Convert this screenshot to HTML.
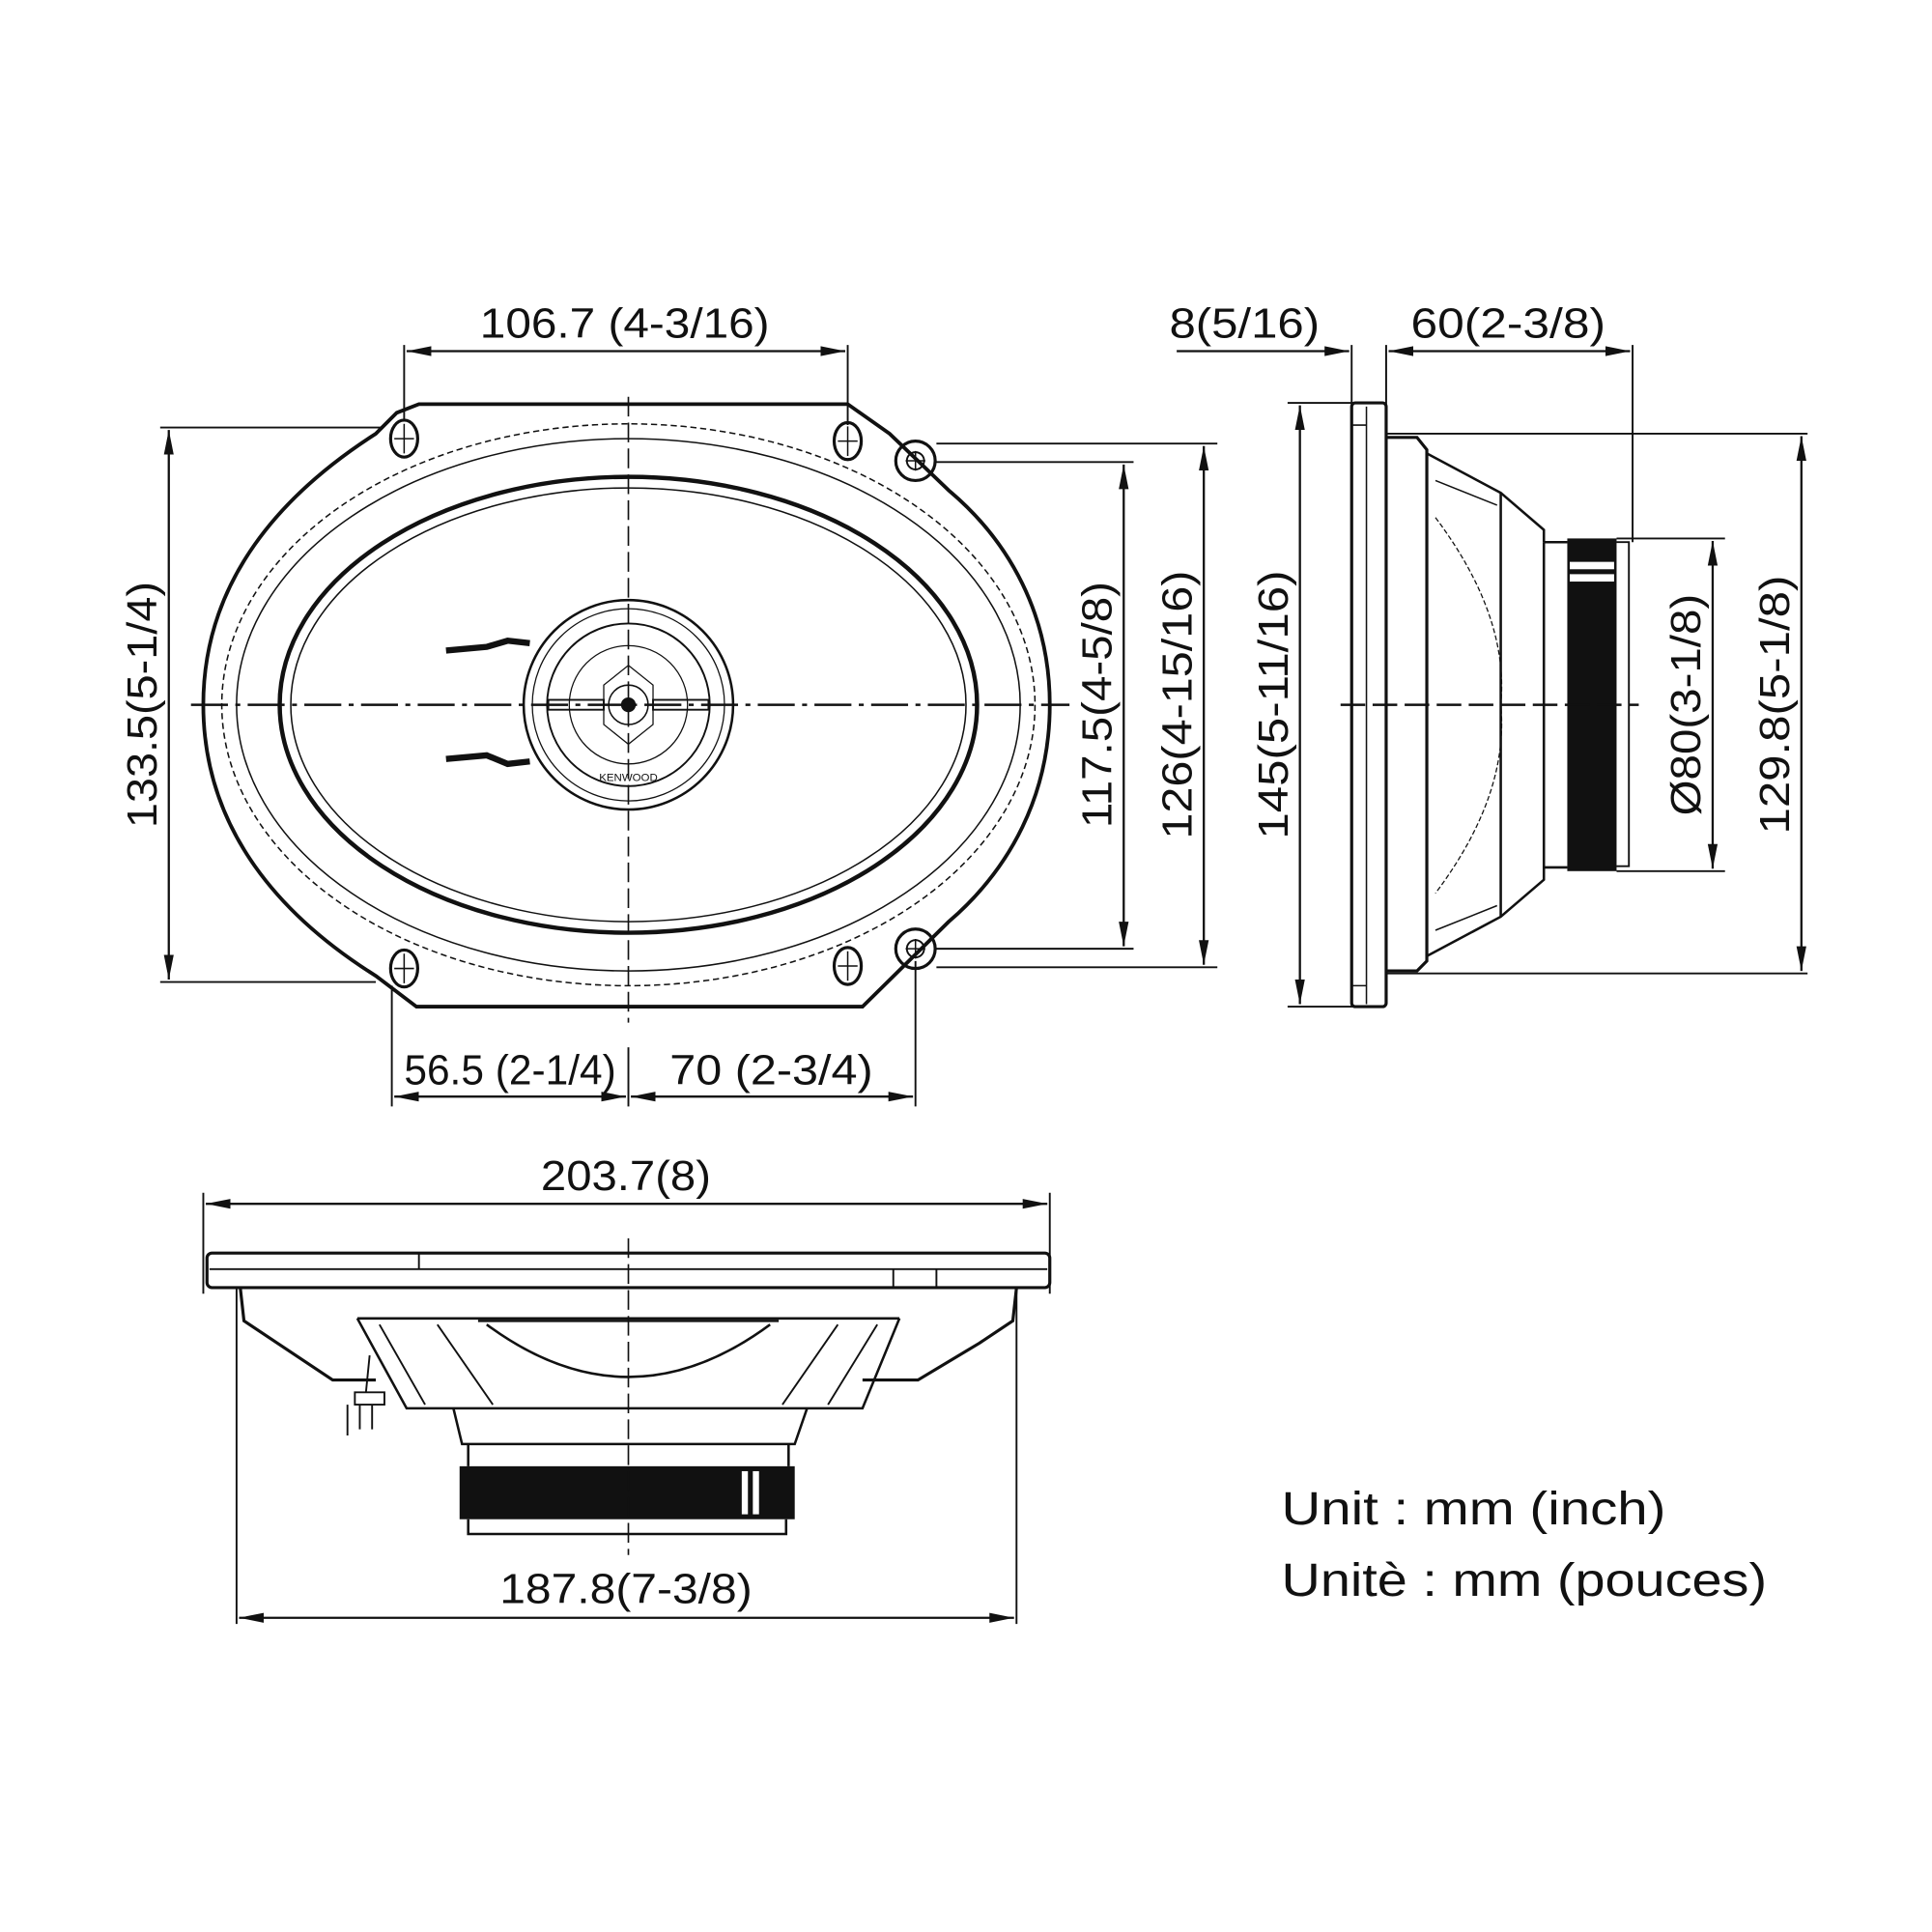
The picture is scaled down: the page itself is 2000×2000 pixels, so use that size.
<!DOCTYPE html>
<html><head><meta charset="utf-8"><style>
html,body{margin:0;padding:0;background:#fff;}
svg{display:block;}
text{font-family:"Liberation Sans",sans-serif;fill:#111;}
</style></head><body>
<svg width="2000" height="2000" viewBox="0 0 1568 1568" xmlns="http://www.w3.org/2000/svg">
<defs>
<marker id="a" viewBox="0 0 20 10" refX="20" refY="5" markerWidth="20" markerHeight="10" markerUnits="userSpaceOnUse" orient="auto-start-reverse"><path d="M0,1 L20,5 L0,9 Z" fill="#111"/></marker>
</defs>
<g fill="none" stroke="#111" stroke-width="2">
<!-- FRONT VIEW -->
<path d="M340,328 L688,328 L722,352 L770,398 C820,440 852,500 852,572 C852,645 820,705 770,748 L700,817 L338,817 L305,792 C230,745 165,675 165,572 C165,470 230,400 305,352 L322,335 Z" stroke-width="3"/>
<ellipse cx="510" cy="572" rx="330" ry="228" stroke-width="1.2" stroke-dasharray="5,3"/>
<ellipse cx="510" cy="572" rx="318" ry="216" stroke-width="1.2"/>
<ellipse cx="510" cy="572" rx="283" ry="185" stroke-width="3.5"/>
<ellipse cx="510" cy="572" rx="274" ry="176" stroke-width="1.2"/>
<circle cx="510" cy="572" r="85" stroke-width="2"/>
<circle cx="510" cy="572" r="78" stroke-width="1"/>
<circle cx="510" cy="572" r="66" stroke-width="1.5"/>
<circle cx="510" cy="572" r="48" stroke-width="1"/>
<path d="M510,540 L530,556 L530,588 L510,604 L490,588 L490,556 Z" stroke-width="1"/>
<circle cx="510" cy="572" r="16" stroke-width="1.2"/>
<circle cx="510" cy="572" r="5" fill="#111"/>
<rect x="445" y="568" width="45" height="8" stroke-width="1.5"/>
<rect x="530" y="568" width="45" height="8" stroke-width="1.5"/>
<path d="M362,528 L395,525 L412,520 L430,522" stroke-width="5"/>
<path d="M362,616 L395,613 L412,620 L430,618" stroke-width="5"/>
<text x="510" y="634" font-size="9" text-anchor="middle" stroke="none" fill="#555">KENWOOD</text>
<g stroke-width="2.5">
<ellipse cx="328" cy="356" rx="11" ry="15"/><ellipse cx="688" cy="358" rx="11" ry="15"/>
<ellipse cx="328" cy="786" rx="11" ry="15"/><ellipse cx="688" cy="784" rx="11" ry="15"/>
<circle cx="743" cy="374" r="16"/><circle cx="743" cy="770" r="16"/>
<circle cx="743" cy="374" r="7" stroke-width="1.5"/><circle cx="743" cy="770" r="7" stroke-width="1.5"/>
</g>
<path d="M320,356 H336 M328,344 V368 M320,786 H336 M328,774 V798 M680,358 H696 M688,346 V370 M680,784 H696 M688,772 V796 M735,374 H751 M743,366 V382 M735,770 H751 M743,762 V778" stroke-width="1.2"/>
<path d="M155,572 H868" stroke-width="2" stroke-dasharray="30,6,4,6"/>
<path d="M510,322 V830" stroke-width="1.3" stroke-dasharray="16,5"/>
<g stroke-width="1.5">
<path d="M328,280 V340 M688,280 V345"/>
<path d="M130,347 H310 M130,797 H305"/>
<path d="M760,360 H988 M760,785 H988"/>
<path d="M760,375 H920 M760,770 H920"/>
<path d="M318,800 V898 M743,780 V898"/>
</g>
<g stroke-width="1.8" marker-start="url(#a)" marker-end="url(#a)">
<line x1="330" y1="285" x2="686" y2="285"/>
<line x1="137" y1="349" x2="137" y2="795"/>
<line x1="912" y1="377" x2="912" y2="768"/>
<line x1="977" y1="362" x2="977" y2="783"/>
<line x1="320" y1="890" x2="508" y2="890"/>
<line x1="512" y1="890" x2="741" y2="890"/>
<line x1="167" y1="977" x2="850" y2="977"/>
<line x1="194" y1="1313" x2="823" y2="1313"/>
<line x1="1127" y1="285" x2="1323" y2="285"/>
<line x1="1055" y1="329" x2="1055" y2="815"/>
<line x1="1462" y1="354" x2="1462" y2="788"/>
<line x1="1390" y1="439" x2="1390" y2="705"/>
</g>
<path d="M955,285 H1095" stroke-width="1.8" marker-end="url(#a)"/>
<path d="M510,850 V898" stroke-width="1.5"/>
<!-- SIDE VIEW -->
<path d="M1097,280 V330 M1125,280 V330 M1325,280 V440" stroke-width="1.5"/>
<rect x="1097" y="327" width="28" height="490" rx="3" stroke-width="2.5"/>
<path d="M1109,330 V815 M1097,345 H1109 M1097,800 H1109" stroke-width="1.2"/>
<path d="M1045,327 H1100 M1045,817 H1100" stroke-width="1.5"/>
<path d="M1125,352 H1467 M1125,790 H1467" stroke-width="1.5"/>
<path d="M1312,437 H1400 M1312,707 H1400" stroke-width="1.5"/>
<path d="M1125,355 L1150,355 L1158,365 L1158,780 L1150,788 L1125,788" stroke-width="2.5"/>
<path d="M1158,368 L1218,400 L1253,430 L1253,440 M1158,776 L1218,744 L1253,714 L1253,704" stroke-width="2"/>
<path d="M1218,400 V744 M1253,440 V704 M1253,440 H1272 M1253,704 H1272" stroke-width="2"/>
<path d="M1165,390 L1215,410 M1165,755 L1215,735" stroke-width="1.2"/>
<path d="M1165,420 Q1225,500 1218,572 Q1225,645 1165,725" stroke-width="1" stroke-dasharray="4,2"/>
<rect x="1272" y="437" width="40" height="270" fill="#111" stroke="none"/>
<rect x="1274" y="456" width="36" height="6" fill="#fff" stroke="none"/>
<rect x="1274" y="466" width="36" height="6" fill="#fff" stroke="none"/>
<path d="M1312,440 H1322 V703 H1312" stroke-width="1.5"/>
<path d="M1088,572 H1330" stroke-width="2" stroke-dasharray="20,6"/>
<!-- BOTTOM VIEW -->
<path d="M165,968 V1050 M852,968 V1050" stroke-width="1.5"/>
<path d="M192,1045 V1318 M825,1045 V1318" stroke-width="1.5"/>
<rect x="168" y="1017" width="684" height="28" rx="4" stroke-width="2.5"/>
<path d="M170,1030 H850 M340,1017 V1030 M725,1030 V1045 M760,1030 V1045" stroke-width="1.5"/>
<path d="M195,1045 L198,1072 L225,1090 L270,1120 L305,1120 M825,1045 L822,1072 L795,1090 L745,1120 L700,1120" stroke-width="2.5"/>
<path d="M290,1070 L730,1070 M290,1070 L330,1143 L700,1143 L730,1070" stroke-width="2"/>
<path d="M308,1075 L345,1140 M355,1075 L400,1140 M680,1075 L635,1140 M712,1075 L672,1140" stroke-width="1.5"/>
<path d="M388,1072 L632,1072 M395,1075 Q510,1160 625,1075" stroke-width="2"/>
<path d="M368,1143 L375,1172 L645,1172 L655,1143" stroke-width="2"/>
<path d="M380,1172 V1190 M640,1172 V1190" stroke-width="2"/>
<rect x="373" y="1190" width="272" height="43" fill="#111" stroke="none"/>
<rect x="602" y="1194" width="5" height="35" fill="#fff" stroke="none"/>
<rect x="611" y="1194" width="5" height="35" fill="#fff" stroke="none"/>
<path d="M380,1233 V1245 H638 V1233" stroke-width="2"/>
<path d="M300,1100 L297,1130 M288,1130 H312 V1140 H288 Z M282,1140 V1165 M292,1140 V1160 M302,1140 V1160" stroke-width="1.5"/>
<path d="M510,1005 V1262" stroke-width="1.3" stroke-dasharray="16,5"/>
</g>
<g font-size="34" text-anchor="middle">
<text x="507" y="274" textLength="235" lengthAdjust="spacingAndGlyphs">106.7 (4-3/16)</text>
<text x="414" y="880" textLength="172" lengthAdjust="spacingAndGlyphs">56.5 (2-1/4)</text>
<text x="626" y="880" textLength="165" lengthAdjust="spacingAndGlyphs">70 (2-3/4)</text>
<text x="508" y="966" textLength="138" lengthAdjust="spacingAndGlyphs">203.7(8)</text>
<text x="508" y="1301" textLength="205" lengthAdjust="spacingAndGlyphs">187.8(7-3/8)</text>
<text x="1010" y="274" textLength="122" lengthAdjust="spacingAndGlyphs">8(5/16)</text>
<text x="1224" y="274" textLength="158" lengthAdjust="spacingAndGlyphs">60(2-3/8)</text>
<text transform="translate(127,572) rotate(-90)" textLength="200" lengthAdjust="spacingAndGlyphs">133.5(5-1/4)</text>
<text transform="translate(902,572) rotate(-90)" textLength="200" lengthAdjust="spacingAndGlyphs">117.5(4-5/8)</text>
<text transform="translate(967,572) rotate(-90)" textLength="218" lengthAdjust="spacingAndGlyphs">126(4-15/16)</text>
<text transform="translate(1045,572) rotate(-90)" textLength="218" lengthAdjust="spacingAndGlyphs">145(5-11/16)</text>
<text transform="translate(1380,572) rotate(-90)" textLength="180" lengthAdjust="spacingAndGlyphs">Ø80(3-1/8)</text>
<text transform="translate(1452,572) rotate(-90)" textLength="210" lengthAdjust="spacingAndGlyphs">129.8(5-1/8)</text>
</g>
<text x="1040" y="1237" font-size="38" textLength="312" lengthAdjust="spacingAndGlyphs">Unit : mm (inch)</text>
<text x="1040" y="1295" font-size="38" textLength="394" lengthAdjust="spacingAndGlyphs">Unitè : mm (pouces)</text>
</svg>
</body></html>
